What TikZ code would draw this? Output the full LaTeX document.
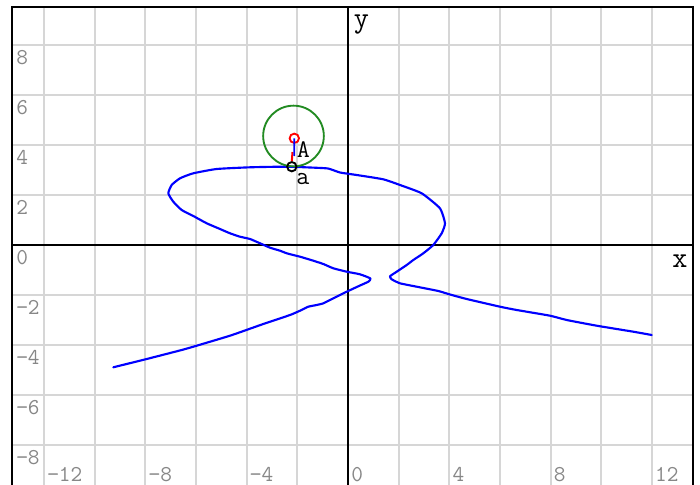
\documentclass[tikz,border=0pt]{standalone}
\usepackage{fontspec}
\definecolor{gridgray}{RGB}{214,214,214}
\definecolor{tickgray}{RGB}{135,135,135}
\definecolor{curveblue}{RGB}{0,0,255}
\definecolor{circgreen}{RGB}{34,139,34}
\definecolor{ptred}{RGB}{255,0,0}
\begin{document}
\begin{tikzpicture}[x=0.75pt,y=-0.75pt,
  gridline/.style={draw=gridgray,line width=1.5pt},
  axisline/.style={draw=black,line width=1.4pt},
  frameline/.style={draw=black,line width=1.5pt},
  curve/.style={draw=curveblue,line width=1.6pt,line join=round,line cap=round},
  ticklab/.style={text=tickgray,font=\fontsize{17}{17}\selectfont\ttfamily,inner sep=0pt,anchor=west},
  axlab/.style={text=black,font=\fontsize{22}{22}\selectfont\ttfamily,inner sep=0pt},
  ptlab/.style={text=black,font=\fontsize{19}{19}\selectfont\ttfamily,inner sep=0pt,anchor=west},
  redpt/.style={circle,draw=ptred,line width=1.4pt,fill=white,minimum size=7pt,inner sep=0pt},
  blackpt/.style={circle,draw=black,line width=1.4pt,minimum size=7pt,inner sep=0pt},
  greencirc/.style={circle,draw=circgreen,line width=1.4pt,minimum size=45.5pt,inner sep=0pt}]
\useasboundingbox (0,0) rectangle (700,485);
\fill[white] (0,0) rectangle (700,485);
% grid
\foreach \k in {-12,-10,...,12}
  \draw[gridline] ({348+25.33*\k},7) -- ({348+25.33*\k},490);
\foreach \k in {-8,-6,...,8}
  \draw[gridline] (12,{245-25*\k}) -- (693,{245-25*\k});
% axes
\coordinate (xl) at (12,245);
\coordinate (xr) at (693,245);
\coordinate (yt) at (348,7);
\coordinate (yb) at (348,490);
\draw[axisline] (xl) -- (xr);
\draw[axisline] (yt) -- (yb);
% frame
\coordinate (f1) at (12,490);
\coordinate (f2) at (12,7);
\coordinate (f3) at (693,7);
\coordinate (f4) at (693,490);
\draw[frameline] (f1) -- (f2) -- (f3) -- (f4);
% tick labels
\foreach \k/\t in {8/8,6/6,4/4,2/2,0/0,-2/−2,-4/−4,-6/−6,-8/−8}
  \node[ticklab] (yl\k) at (16,{245-25*\k+12.5}) {\t};
\foreach \k/\t in {-12/−12,-8/−8,-4/−4,0/0,4/4,8/8,12/12}
  \node[ticklab] (xl\k) at ({348+25.33*\k+3},474.5) {\t};
% axis labels
\node[axlab] (xlab) at (680,261) {x};
\node[axlab] (ylab) at (361.5,25) {y};
% curve
\draw[curve] plot[smooth,tension=0.3] coordinates {
(113.3,367.3) (146.7,359) (181.7,350) (196.7,345.7) (230,335.7) (248.3,329.3)
(263.3,324) (290,315) (300,310.7) (308.3,306.7) (316.7,305) (323.3,303.3)
(333.3,298.3) (346.7,291.7) (360,285.5) (368.3,281.7) (370.5,278.5) (360,274.3)
(346.7,271.7) (333.3,268.3) (323.3,264) (313.3,260.7) (300,256.7) (286.7,253.3)
(280,250.7) (270,247.7) (260,243.3) (250,239) (240,236.7) (230,233.3) (220,229)
(206.7,223.3) (193.3,216) (181.7,210) (173.3,201.7) (168.3,193.3) (171.7,185)
(180,178.3) (193.3,173.3) (216.7,169) (250,167.3) (280,166.7) (292,166.8)
(310,167.5) (328,168.5) (340,172.5) (356.7,175) (383.3,179.3) (400,185)
(421.7,193.3) (440,208.3) (445,223.3) (441.7,233.3) (433.3,245) (423.3,253.3)
(413.3,260) (406.7,265) (396.7,271.7) (390,276.3) (391.7,279.3) (400,283.3)
(416.7,286.7) (438.3,291) (450,294.5) (466.7,299) (500,306.7) (516.7,310)
(550,315.7) (566.7,320) (596.7,325.7) (633.3,331.7) (651.7,335)};
% green circle
\node[greencirc] (gc) at (293.5,136) {};
% points and vectors
\node[blackpt] (a) at (291.8,166.7) {};
\coordinate (m1) at (294.2,156);
\coordinate (m2) at (292.5,152);
\draw[draw=ptred,line width=1.5pt] (m2) -- (a.north);
\node[redpt] (A) at (294.3,138.3) {};
\draw[draw=curveblue,line width=1.3pt] (A.center) -- (m1);
\node[ptlab] (Alab) at (296.5,149.5) {A};
\node[ptlab] (alab) at (296,179) {a};
\end{tikzpicture}
\end{document}
